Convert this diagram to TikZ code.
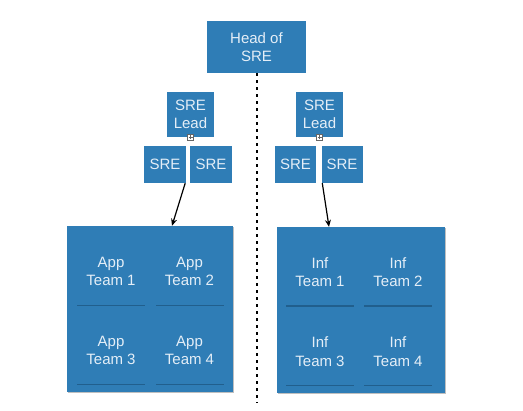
\documentclass[tikz,border=0pt]{standalone}
\usepackage{fontspec}
\setmainfont{Liberation Sans}
\usetikzlibrary{shadows,arrows.meta}
\definecolor{sreblue}{RGB}{47,125,182}
\definecolor{sretext}{RGB}{228,238,247}
\definecolor{shadowblue}{RGB}{25,75,115}
\tikzset{
  box/.style={fill=sreblue, draw=none, inner sep=0pt, align=center, text=sretext,
    font=\fontsize{15}{18.5}\selectfont},
  teambox/.style={box, minimum width=68pt, minimum height=67pt,
    drop shadow={shadow xshift=0pt, shadow yshift=-1.5pt, fill=shadowblue, opacity=0.6}},
  container/.style={box, minimum width=166pt, minimum height=166pt,
    drop shadow={shadow xshift=0.8pt, shadow yshift=-1.2pt, fill=black, opacity=0.25}},
  toggle/.style={draw=gray!80!black, fill=white, line width=0.5pt, minimum size=6pt, inner sep=0pt},
  link/.style={line width=1.2pt, -{Stealth[length=7pt,width=6pt]}},
  divider/.style={line width=2pt, dash pattern=on 3pt off 4pt}
}
\begin{document}
\begin{tikzpicture}[x=1pt,y=-1pt]
\useasboundingbox (0,0) rectangle (523,411);
% head
\node[box, minimum width=99pt, minimum height=52pt] (head) at (256.5,47) {Head of\\SRE};
% divider
\coordinate (divend) at (256.5,403);
\draw[divider] (head.south) -- (divend);
% left group
\node[box, minimum width=47pt, minimum height=45pt] (leadl) at (190.5,114.5) {SRE\\Lead};
\node[box, minimum width=42pt, minimum height=37pt] (srel1) at (165,164.5) {SRE};
\node[box, minimum width=42pt, minimum height=37pt] (srel2) at (211,164.5) {SRE};
\node[toggle] (togl) at (leadl.south) {};
\draw[line width=0.5pt, gray!80!black] ([xshift=-2pt]togl.center) -- ([xshift=2pt]togl.center)
  ([yshift=-2pt]togl.center) -- ([yshift=2pt]togl.center);
\node[container, minimum width=166pt] (appc) at (150,309) {};
\node[teambox] (app1) at (111,271.5) {App\\Team 1};
\node[teambox] (app2) at (189.5,271.5) {App\\Team 2};
\node[teambox] (app3) at (111,350.5) {App\\Team 3};
\node[teambox] (app4) at (189.5,350.5) {App\\Team 4};
\draw[link] ([xshift=-1pt]srel1.south east) -- ([xshift=22pt]appc.north);
% right group
\node[box, minimum width=47pt, minimum height=45pt] (leadr) at (319.5,114.5) {SRE\\Lead};
\node[box, minimum width=41pt, minimum height=37pt] (srer1) at (295.5,164.5) {SRE};
\node[box, minimum width=41pt, minimum height=37pt] (srer2) at (342,164.5) {SRE};
\node[toggle] (togr) at (leadr.south) {};
\draw[line width=0.5pt, gray!80!black] ([xshift=-2pt]togr.center) -- ([xshift=2pt]togr.center)
  ([yshift=-2pt]togr.center) -- ([yshift=2pt]togr.center);
\node[container, minimum width=168pt] (infc) at (361,310) {};
\node[teambox] (inf1) at (320,272) {Inf\\Team 1};
\node[teambox] (inf2) at (398,272) {Inf\\Team 2};
\node[teambox] (inf3) at (320,351.5) {Inf\\Team 3};
\node[teambox] (inf4) at (398,351.5) {Inf\\Team 4};
\draw[link] ([xshift=1pt]srer2.south west) -- ([xshift=-32pt]infc.north);
\end{tikzpicture}
\end{document}
